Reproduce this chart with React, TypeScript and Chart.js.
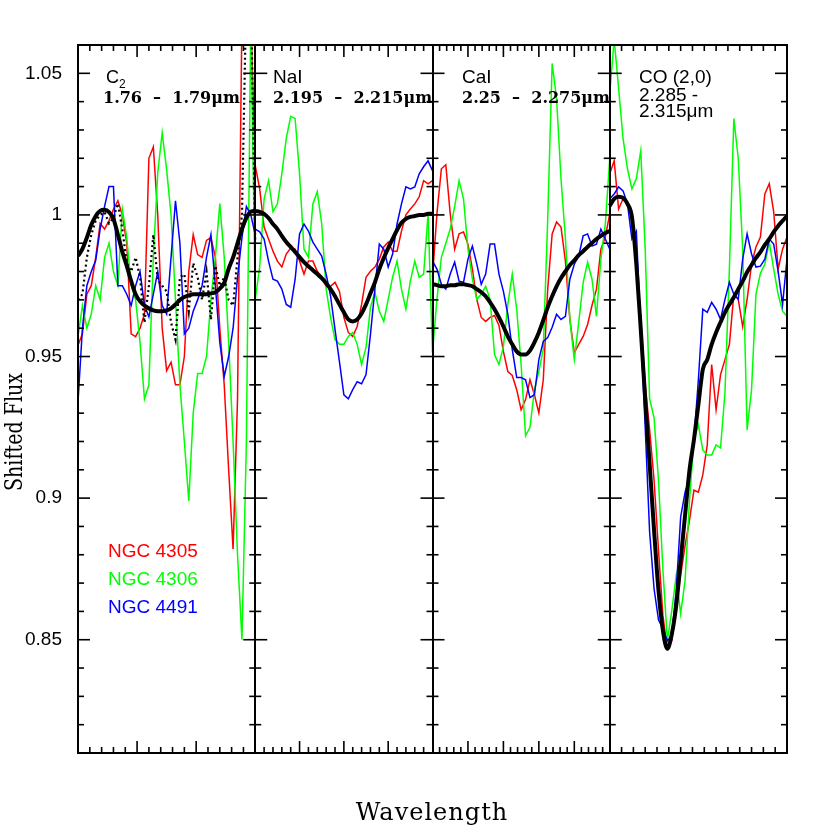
import React, { useEffect, useRef } from "react";
import { Chart, registerables } from "chart.js";
Chart.register(...registerables);

// ---------- panel definitions ----------
const panelRanges: number[][] = [
  [1.76, 1.79],
  [2.195, 2.215],
  [2.25, 2.275],
  [2.285, 2.315],
];
const panelMinorStep = [0.002, 0.001, 0.001, 0.002];
const panelMajorStep = [0.01, 0.005, 0.005, 0.01];
const yTickValues = [0.85, 0.9, 0.95, 1, 1.05];
const seriesNames = ["NGC 4305", "NGC 4306", "NGC 4491"];
const seriesColors = ["#ff0000", "#00ff00", "#0000ff"];

// ---------- wavelength grids (micron) ----------
const wave1 = [1.76, 1.76075, 1.7615, 1.76225, 1.763, 1.76375, 1.7645, 1.76525, 1.766, 1.76675, 1.7675, 1.76825, 1.769, 1.76975, 1.7705, 1.77125, 1.772, 1.77275, 1.7735, 1.77425, 1.775, 1.77575, 1.7765, 1.77725, 1.778, 1.77875, 1.7795, 1.78025, 1.781, 1.78175, 1.7825, 1.78325, 1.784, 1.78475, 1.7855, 1.78625, 1.787, 1.78775, 1.7885, 1.78925, 1.79];
const wave2 = [2.195, 2.1955, 2.196, 2.1965, 2.197, 2.1975, 2.198, 2.1985, 2.199, 2.1995, 2.2, 2.2005, 2.201, 2.2015, 2.202, 2.2025, 2.203, 2.2035, 2.204, 2.2045, 2.205, 2.2055, 2.206, 2.2065, 2.207, 2.2075, 2.208, 2.2085, 2.209, 2.2095, 2.21, 2.2105, 2.211, 2.2115, 2.212, 2.2125, 2.213, 2.2135, 2.214, 2.2145, 2.215];
const wave3 = [2.25, 2.250625, 2.25125, 2.251875, 2.2525, 2.253125, 2.25375, 2.254375, 2.255, 2.255625, 2.25625, 2.256875, 2.2575, 2.258125, 2.25875, 2.259375, 2.26, 2.260625, 2.26125, 2.261875, 2.2625, 2.263125, 2.26375, 2.264375, 2.265, 2.265625, 2.26625, 2.266875, 2.2675, 2.268125, 2.26875, 2.269375, 2.27, 2.270625, 2.27125, 2.271875, 2.2725, 2.273125, 2.27375, 2.274375, 2.275];
const wave4 = [2.285, 2.28575, 2.2865, 2.28725, 2.288, 2.28875, 2.2895, 2.29025, 2.291, 2.29175, 2.2925, 2.29325, 2.294, 2.29475, 2.2955, 2.29625, 2.297, 2.29775, 2.2985, 2.29925, 2.3, 2.30075, 2.3015, 2.30225, 2.303, 2.30375, 2.3045, 2.30525, 2.306, 2.30675, 2.3075, 2.30825, 2.309, 2.30975, 2.3105, 2.31125, 2.312, 2.31275, 2.3135, 2.31425, 2.315];

// ---------- Panel 1: C2 ----------
const model1 = [0.9855, 0.988, 0.992, 0.9965, 0.9996, 1.0014, 1.0018, 1.001, 0.9986, 0.993, 0.987, 0.982, 0.9766, 0.972, 0.9695, 0.968, 0.967, 0.9663, 0.966, 0.966, 0.9663, 0.967, 0.9684, 0.97, 0.971, 0.9716, 0.972, 0.972, 0.972, 0.972, 0.9723, 0.9727, 0.974, 0.976, 0.981, 0.985, 0.99, 0.995, 0.999, 1.0012, 1.0014];
const dotted1 = [0.97, 0.972, 0.985, 0.993, 0.998, 1.0, 1.001, 0.997, 0.999, 1.004, 0.995, 0.983, 0.98, 0.985, 0.978, 0.962, 0.975, 0.993, 0.977, 0.975, 0.973, 0.962, 0.956, 0.978, 0.979, 0.966, 0.983, 0.978, 0.97, 0.98, 0.963, 0.982, 0.975, 0.978, 0.97, 0.968, 0.985, 1.0, 1.08, 1.08, 0.99];
const red1 = [0.954, 0.958, 0.972, 0.975, 0.985, 0.997, 0.995, 0.998, 1.002, 1.005, 1.0, 0.99, 0.958, 0.957, 0.96, 0.965, 1.02, 1.024, 1.0, 0.96, 0.945, 0.948, 0.94, 0.94, 0.95, 0.98, 0.993, 0.986, 0.985, 0.991, 0.992, 0.985, 0.96, 0.94, 0.91, 0.882, 0.935, 1.07, 1.07, 1.07, 1.017];
const green1 = [0.957, 0.968, 0.96, 0.965, 0.975, 0.97, 0.985, 0.99, 0.98, 0.975, 1.002, 0.992, 0.975, 0.97, 0.955, 0.935, 0.94, 0.985, 1.015, 1.029, 1.016, 1.0, 0.97, 0.94, 0.92, 0.899, 0.93, 0.944, 0.944, 0.95, 0.97, 0.985, 1.004, 0.985, 0.955, 0.92, 0.88, 0.85, 0.92, 1.07, 0.97];
const blue1 = [0.934, 0.96, 0.975, 0.98, 0.984, 0.995, 1.003, 1.01, 1.01, 0.975, 0.975, 0.972, 0.968, 0.975, 0.98, 0.968, 0.964, 0.972, 0.98, 0.968, 0.965, 0.985, 1.005, 0.99, 0.958, 0.96, 0.966, 0.97, 0.975, 0.985, 0.993, 0.975, 0.955, 0.943, 0.95, 0.96, 0.978, 0.992, 1.003, 1.0, 0.993];

// ---------- Panel 2: NaI ----------
const model2 = [1.0014, 1.0011, 1.0004, 0.9989, 0.9968, 0.995, 0.9926, 0.9904, 0.9887, 0.9869, 0.9851, 0.9833, 0.9819, 0.9805, 0.9791, 0.9777, 0.9759, 0.9738, 0.9713, 0.9684, 0.9656, 0.9631, 0.9624, 0.9631, 0.9652, 0.9684, 0.9723, 0.9762, 0.9809, 0.9848, 0.9883, 0.9915, 0.9947, 0.9972, 0.9986, 0.9993, 0.9996, 1.0, 1.0, 1.0004, 1.0004];
const red2 = [1.0174, 1.0092, 0.9957, 0.9915, 0.9872, 0.9837, 0.9816, 0.9862, 0.9883, 0.9879, 0.9837, 0.9791, 0.9837, 0.9837, 0.9801, 0.978, 0.9748, 0.9748, 0.9762, 0.973, 0.9638, 0.9585, 0.9571, 0.9606, 0.9684, 0.978, 0.9801, 0.9816, 0.9844, 0.9887, 0.9904, 0.9872, 0.9872, 0.9943, 1.0, 1.0021, 1.0039, 1.0064, 1.0121, 1.011, 1.0121];
const green2 = [0.9702, 0.9816, 1.0057, 1.0121, 1.0011, 1.0039, 1.0145, 1.027, 1.0348, 1.034, 1.0145, 0.9879, 0.9851, 1.0039, 1.0082, 0.9968, 0.9738, 0.9638, 0.956, 0.9543, 0.9543, 0.9571, 0.9585, 0.9543, 0.9472, 0.9532, 0.9674, 0.9727, 0.966, 0.9624, 0.9702, 0.978, 0.9837, 0.9738, 0.9667, 0.9766, 0.9837, 0.978, 0.9791, 1.0004, 0.9514];
const blue2 = [0.995, 0.994, 0.9915, 0.9837, 0.9773, 0.9766, 0.9738, 0.9684, 0.9674, 0.9773, 0.9933, 0.9968, 0.9943, 0.9904, 0.9879, 0.9855, 0.9791, 0.9713, 0.9596, 0.9482, 0.9365, 0.9351, 0.9383, 0.9411, 0.9404, 0.9436, 0.9578, 0.9738, 0.9897, 0.9879, 0.9816, 0.9862, 0.9968, 1.0039, 1.0099, 1.0092, 1.0099, 1.0145, 1.017, 1.0191, 1.0156];

// ---------- Panel 3: CaI ----------
const model3 = [0.9755, 0.9752, 0.9748, 0.9748, 0.9752, 0.9752, 0.9755, 0.9755, 0.9752, 0.9748, 0.9738, 0.9727, 0.9713, 0.9691, 0.9667, 0.9638, 0.9606, 0.9571, 0.9543, 0.9518, 0.9507, 0.9507, 0.9521, 0.955, 0.9585, 0.9628, 0.9674, 0.9713, 0.9748, 0.9777, 0.9801, 0.9823, 0.984, 0.9858, 0.9872, 0.9887, 0.9901, 0.9915, 0.9926, 0.9936, 0.9943];
const red3 = [0.978, 1.0004, 1.0163, 1.0177, 1.0004, 0.9879, 0.9933, 0.994, 0.9897, 0.9809, 0.9702, 0.9638, 0.9624, 0.9638, 0.9645, 0.961, 0.9518, 0.9447, 0.9433, 0.9383, 0.9312, 0.9348, 0.9418, 0.9365, 0.9301, 0.9418, 0.9738, 0.9933, 0.9975, 0.9957, 0.9837, 0.9631, 0.9514, 0.9543, 0.9571, 0.9613, 0.9681, 0.9738, 0.9879, 0.9922, 1.0004];
const green3 = [0.9514, 0.9702, 0.985, 0.99, 0.995, 1.003, 1.0121, 1.0057, 0.9879, 0.9773, 0.9702, 0.972, 0.9748, 0.9702, 0.9507, 0.9472, 0.9535, 0.9684, 0.9791, 0.9667, 0.9472, 0.922, 0.925, 0.9383, 0.9447, 0.9525, 0.9986, 1.0535, 1.0411, 1.0128, 0.9915, 0.9631, 0.9489, 0.9621, 0.9762, 0.9833, 0.9773, 0.9642, 0.9844, 0.9968, 1.0199];
const blue3 = [0.9837, 0.9809, 0.9755, 0.9738, 0.9791, 0.9833, 0.9766, 0.9762, 0.9844, 0.989, 0.9826, 0.9755, 0.9791, 0.9897, 0.9897, 0.9791, 0.973, 0.9649, 0.9525, 0.9426, 0.9426, 0.9418, 0.9355, 0.9365, 0.9489, 0.9553, 0.9567, 0.9603, 0.9649, 0.9631, 0.9642, 0.9773, 0.9826, 0.9855, 0.9926, 0.9933, 0.989, 0.9897, 0.995, 0.9915, 0.9879];

// ---------- Panel 4: CO (2,0) ----------
const model4 = [1.0032, 1.0057, 1.0064, 1.006, 1.0039, 0.9993, 0.9826, 0.9596, 0.935, 0.912, 0.8887, 0.8674, 0.8532, 0.8468, 0.852, 0.8621, 0.878, 0.894, 0.9099, 0.9206, 0.933, 0.9455, 0.9489, 0.9543, 0.9585, 0.9621, 0.9656, 0.9684, 0.9709, 0.9738, 0.9766, 0.9798, 0.9823, 0.9848, 0.9869, 0.9894, 0.9915, 0.994, 0.9961, 0.9979, 0.9996];
const red4 = [1.0145, 1.0191, 1.0021, 1.0057, 1.0046, 1.0004, 0.9837, 0.9631, 0.9401, 0.9241, 0.9064, 0.8816, 0.8585, 0.8468, 0.8496, 0.8621, 0.8727, 0.8833, 0.8922, 0.9028, 0.9021, 0.9082, 0.9188, 0.9472, 0.9312, 0.9436, 0.9489, 0.9543, 0.972, 0.9702, 0.9606, 0.9702, 0.9826, 0.9887, 0.9922, 1.0074, 1.011, 1.0011, 0.9809, 0.9879, 0.9922];
const green4 = [1.0429, 1.062, 1.0447, 1.027, 1.0163, 1.0092, 1.0128, 1.0227, 0.988, 0.935, 0.9284, 0.9064, 0.8745, 0.8496, 0.8603, 0.8727, 0.8592, 0.8709, 0.8993, 0.9206, 0.9259, 0.917, 0.9152, 0.9152, 0.9188, 0.9177, 0.9372, 0.9809, 1.034, 1.02, 0.9879, 0.9241, 0.9383, 0.972, 0.9794, 0.9826, 0.9904, 0.9809, 0.972, 0.966, 0.9642];
const blue4 = [1.0057, 1.0074, 1.0099, 1.0085, 1.0039, 0.9915, 0.9943, 0.9596, 0.925, 0.888, 0.868, 0.857, 0.8539, 0.8496, 0.8514, 0.8674, 0.8933, 0.9021, 0.9071, 0.9206, 0.9418, 0.9667, 0.9656, 0.9691, 0.9667, 0.9631, 0.9702, 0.9762, 0.972, 0.9702, 0.9844, 0.9933, 0.9862, 0.9816, 0.9819, 0.9844, 0.9915, 0.9897, 0.9801, 0.9684, 0.9844];

const panelWaves = [wave1, wave2, wave3, wave4];
const panelSeries = [
  [red1, green1, blue1],
  [red2, green2, blue2],
  [red3, green3, blue3],
  [red4, green4, blue4],
];
const panelModels = [model1, model2, model3, model4];

const SANS = "'Liberation Sans', Arial, Helvetica, sans-serif";
const SERIF = "'DejaVu Serif', serif";

function toXY(panel: number, flux: number[]) {
  const [lo, hi] = panelRanges[panel];
  const w = panelWaves[panel];
  return flux.map((f, i) => ({ x: panel + (w[i] - lo) / (hi - lo), y: f }));
}

const overlayPlugin = {
  id: "overlay",
  afterDraw(chart: any) {
    const { ctx, chartArea: ca, scales } = chart;
    const xs = scales.x;
    const ys = scales.y;
    const seg = (x1: number, y1: number, x2: number, y2: number) => {
      ctx.beginPath();
      ctx.moveTo(x1, y1);
      ctx.lineTo(x2, y2);
      ctx.stroke();
    };
    ctx.save();
    ctx.strokeStyle = "#000";
    ctx.lineCap = "butt";
    // frame
    ctx.lineWidth = 2;
    ctx.strokeRect(ca.left, ca.top, ca.right - ca.left, ca.bottom - ca.top);
    for (let p = 1; p < 4; p++) {
      const px = Math.round(xs.getPixelForValue(p));
      seg(px, ca.top, px, ca.bottom);
    }
    // y ticks on every panel edge
    ctx.lineWidth = 1.6;
    for (let k = 82; k <= 105; k++) {
      const py = ys.getPixelForValue(k / 100);
      const len = k % 5 === 0 ? 12 : 6;
      for (let p = 0; p <= 4; p++) {
        const px = xs.getPixelForValue(p);
        if (p < 4) seg(px, py, px + len, py);
        if (p > 0) seg(px - len, py, px, py);
      }
    }
    // x ticks per panel, top and bottom
    for (let p = 0; p < 4; p++) {
      const [lo, hi] = panelRanges[p];
      const step = panelMinorStep[p];
      const major = panelMajorStep[p];
      const n = Math.round((hi - lo) / step);
      for (let k = 1; k < n; k++) {
        const w = lo + k * step;
        const px = xs.getPixelForValue(p + (w - lo) / (hi - lo));
        const r = w / major;
        const isMajor = Math.abs(r - Math.round(r)) < 1e-6;
        const len = isMajor ? 12 : 6;
        seg(px, ca.bottom, px, ca.bottom - len);
        seg(px, ca.top, px, ca.top + len);
      }
    }
    // panel labels
    ctx.fillStyle = "#000";
    ctx.textAlign = "left";
    ctx.textBaseline = "alphabetic";
    ctx.font = `18px ${SANS}`;
    ctx.fillText("C", 106, 83);
    ctx.font = `12px ${SANS}`;
    ctx.fillText("2", 119, 88);
    ctx.font = `bold 16px ${SERIF}`;
    ctx.fillText("1.76  \u2013  1.79\u03bcm", 103, 103);
    ctx.font = `19px ${SANS}`;
    ctx.fillText("NaI", 273, 83);
    ctx.font = `bold 16px ${SERIF}`;
    ctx.fillText("2.195  \u2013  2.215\u03bcm", 273, 103);
    ctx.font = `19px ${SANS}`;
    ctx.fillText("CaI", 462, 83);
    ctx.font = `bold 16px ${SERIF}`;
    ctx.fillText("2.25  \u2013  2.275\u03bcm", 462, 103);
    ctx.font = `19px ${SANS}`;
    ctx.fillText("CO (2,0)", 639, 83);
    ctx.fillText("2.285 -", 639, 101);
    ctx.fillText("2.315\u03bcm", 639, 117);
    // legend
    ctx.font = `19px ${SANS}`;
    const legendY = [557, 585, 613];
    seriesNames.forEach((name, i) => {
      ctx.fillStyle = seriesColors[i];
      ctx.fillText(name, 108, legendY[i]);
    });
    // axis titles
    ctx.fillStyle = "#000";
    ctx.font = `24px ${SERIF}`;
    ctx.textAlign = "center";
    (ctx as any).letterSpacing = "1px";
    ctx.fillText("Wavelength", 432, 820);
    (ctx as any).letterSpacing = "0px";
    ctx.save();
    ctx.translate(22, 432);
    ctx.rotate(-Math.PI / 2);
    const label = "Shifted Flux";
    const wText = ctx.measureText(label).width;
    ctx.scale(118 / wText, 1);
    ctx.fillText(label, 0, 0);
    ctx.restore();
    ctx.restore();
  },
};

export default function App() {
  const ref = useRef<HTMLCanvasElement | null>(null);
  useEffect(() => {
    if (!ref.current) return;
    const datasets: any[] = [];
    for (let p = 0; p < 4; p++) {
      datasets.push({
        data: toXY(p, panelModels[p]),
        borderColor: "#000",
        borderWidth: 4,
        cubicInterpolationMode: "monotone",
        pointRadius: 0,
        order: 0,
      });
      if (p === 0) {
        datasets.push({
          data: toXY(0, dotted1),
          borderColor: "#000",
          borderWidth: 2.2,
          borderDash: [2, 3],
          pointRadius: 0,
          tension: 0,
          order: 1,
        });
      }
      panelSeries[p].forEach((vals, s) => {
        datasets.push({
          data: toXY(p, vals),
          borderColor: seriesColors[s],
          borderWidth: 1.5,
          pointRadius: 0,
          tension: 0,
          order: 4 - s,
        });
      });
    }
    const chart = new Chart(ref.current, {
      type: "line",
      data: { datasets },
      options: {
        animation: false,
        responsive: false,
        maintainAspectRatio: false,
        devicePixelRatio: 1,
        events: [],
        layout: { padding: { top: 45, right: 43, bottom: 77, left: 0 } },
        plugins: {
          legend: { display: false },
          tooltip: { enabled: false },
          title: { display: false },
        },
        scales: {
          x: { type: "linear", min: 0, max: 4, display: false },
          y: {
            type: "linear",
            min: 0.81,
            max: 1.06,
            afterFit: (s: any) => {
              s.width = 78;
            },
            afterBuildTicks: (s: any) => {
              s.ticks = yTickValues.map((v) => ({ value: v }));
            },
            grid: { display: false, drawTicks: false },
            border: { display: false },
            ticks: {
              padding: 16,
              color: "#000",
              font: { family: SANS, size: 19 },
              callback: (v: any) => String(Number(Number(v).toFixed(2))),
            },
          },
        },
      },
      plugins: [overlayPlugin],
    } as any);
    return () => chart.destroy();
  }, []);
  return (
    <div style={{ position: "fixed", left: 0, top: 0, width: 830, height: 830, background: "#fff" }}>
      <canvas ref={ref} width={830} height={830} style={{ width: 830, height: 830, display: "block" }} />
    </div>
  );
}
